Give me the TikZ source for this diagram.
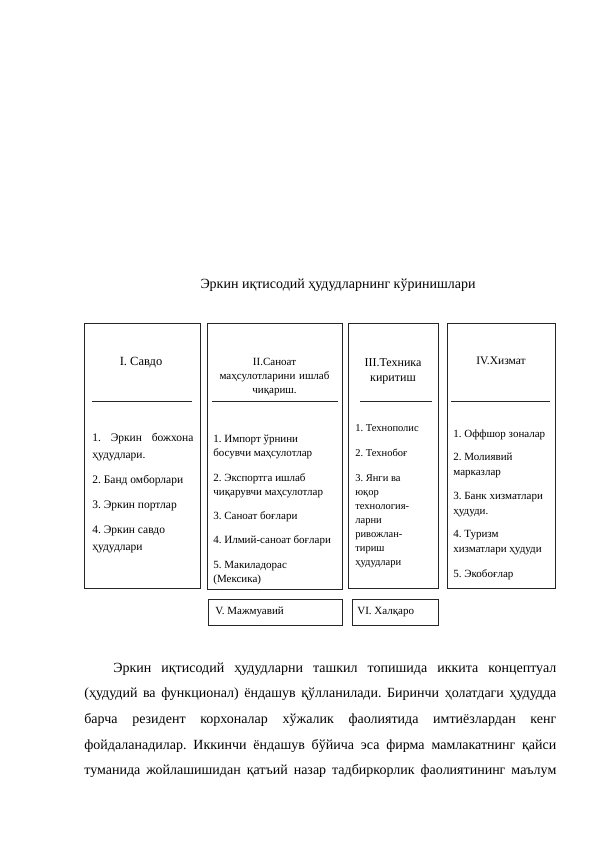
\documentclass[tikz,border=0pt]{standalone}
\usepackage{fontspec}
\setmainfont{Liberation Serif}
\usetikzlibrary{positioning}
\frenchspacing
\newcommand\fullspaces{\spaceskip=0pt \xspaceskip=0pt \relax}

\begin{document}
\begin{tikzpicture}[
            x=1pt, y=-1pt, line width=0.7pt,
            zone/.style={draw=black!85, rectangle, anchor=north west, inner sep=0pt},
            head/.style={anchor=base, align=center, inner sep=0pt, font=\fontsize{11}{14}\selectfont},
            items/.style={anchor=base west, inner sep=0pt, execute at begin node=\fullspaces},
            body/.style={items, text width=472pt, font=\fontsize{14}{25.7}\selectfont}
        ]
            \useasboundingbox (0,0) rectangle (595,842);

            % Title
            \node[anchor=base, inner sep=0pt, font=\fontsize{14}{16}\selectfont] (title) at (338,288) {Эркин иқтисодий ҳудудларнинг кўринишлари};

            % Savdo
            \node[zone, minimum width=116pt, minimum height=265pt] (savdo) at (84,323) {};
            \node[head, font=\fontsize{12.5}{14}\selectfont] (savdohead) at (141,365) {I. Савдо};
            \draw[black!85] (92,401) -- (192,401);
            \node[items, text width=101pt, font=\fontsize{11.5}{17}\selectfont] (savdolist) at (92,441) {\makebox[101pt][s]{1. Эркин божхона}\\ ҳудудлари.\\[8pt] 2. Банд омборлари\\[8pt] 3. Эркин портлар\\[8pt] 4. Эркин савдо\\ ҳудудлари};

            % Sanoat
            \node[zone, minimum width=135pt, minimum height=266pt] (sanoat) at (207,323) {};
            \node[head, text width=132pt, font=\fontsize{11}{14}\selectfont] (sanoathead) at (274.5,365) {II.Саноат\\ маҳсулотларини ишлаб\\ чиқариш.};
            \draw[black!85] (212,401) -- (338,401);
            \node[items, text width=128pt, font=\fontsize{11}{14.5}\selectfont] (sanoatlist) at (213,442) {1. Импорт ўрнини\\ босувчи маҳсулотлар\\[10pt] 2. Экспортга ишлаб\\ чиқарувчи маҳсулотлар\\[9pt] 3. Саноат боғлари\\[10pt] 4. Илмий-саноат боғлари\\[10pt] 5. Макиладорас\\ (Мексика)};

            % Texnika
            \node[zone, minimum width=90pt, minimum height=265pt] (texnika) at (348,323) {};
            \node[head, text width=88pt, font=\fontsize{12}{15}\selectfont] (texnikahead) at (393,366) {III.Техника\\ киритиш};
            \draw[black!85] (360,401) -- (432,401);
            \node[items, text width=80pt, font=\fontsize{10.5}{14}\selectfont] (texnikalist) at (355,431) {1. Технополис\\[11pt] 2. Технобоғ\\[11pt] 3. Янги ва\\ юқор\\ технология-\\ ларни\\ ривожлан-\\ тириш\\ ҳудудлари};

            % Xizmat
            \node[zone, minimum width=108pt, minimum height=265pt] (xizmat) at (447,323) {};
            \node[head, font=\fontsize{11.5}{14}\selectfont] (xizmathead) at (501,364) {IV.Хизмат};
            \draw[black!85] (451,401) -- (550,401);
            \node[items, text width=101pt, font=\fontsize{11}{15}\selectfont] (xizmatlist) at (453,437) {1. Оффшор зоналар\\[8.5pt] 2. Молиявий\\ марказлар\\[8.5pt] 3. Банк хизматлари\\ ҳудуди.\\[8.5pt] 4. Туризм\\ хизматлари ҳудуди\\[10pt] 5. Экобоғлар};

            % Majmuaviy, Xalqaro
            \node[zone, minimum width=134pt, minimum height=26pt] (majmua) at (208,599) {};
            \node[items, font=\fontsize{11}{14}\selectfont] (majmuatext) at (215,614) {V. Мажмуавий};
            \node[zone, minimum width=86pt, minimum height=26pt] (xalqaro) at (352,599) {};
            \node[items, font=\fontsize{11}{14}\selectfont] (xalqarotext) at (357,614) {VI. Халқаро};

            % Paragraph
            \node[body] (matn) at (84,672) {\hspace*{29pt}\makebox[443pt][s]{Эркин иқтисодий ҳудудларни ташкил топишида иккита концептуал}\\
                \makebox[472pt][s]{(ҳудудий ва функционал) ёндашув қўлланилади. Биринчи ҳолатдаги ҳудудда}\\
                \makebox[472pt][s]{барча резидент корхоналар хўжалик фаолиятида имтиёзлардан кенг}\\
                \makebox[472pt][s]{фойдаланадилар. Иккинчи ёндашув бўйича эса фирма мамлакатнинг қайси}\\
                \makebox[472pt][s]{туманида жойлашишидан қатъий назар тадбиркорлик фаолиятининг маълум}};
        \end{tikzpicture}
\end{document}
